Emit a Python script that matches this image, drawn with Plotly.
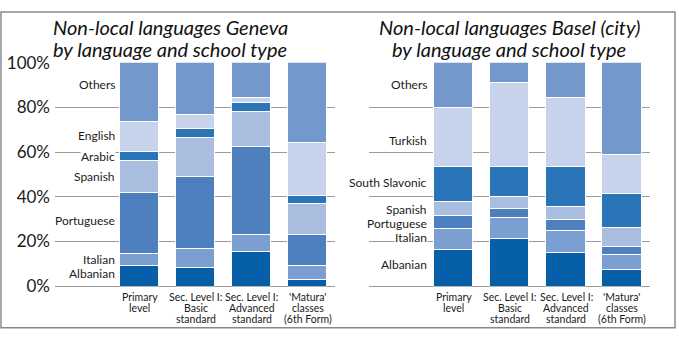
import plotly.graph_objects as go

W, H = 679, 340

# School types (x categories) and their wrapped label lines
schools = ["Primary level", "Sec. Level I: Basic standard",
           "Sec. Level I: Advanced standard", "'Matura' classes (6th Form)"]
school_lines = [["Primary", "level"],
                ["Sec. Level I:", "Basic", "standard"],
                ["Sec. Level I:", "Advanced", "standard"],
                ["'Matura'", "classes", "(6th Form)"]]

# Geneva: share (%) of each non-local language, per school type
geneva_langs = ["Albanian", "Italian", "Portuguese", "Spanish", "Arabic", "English", "Others"]
geneva_albanian = [9.1, 8.2, 15.4, 2.9]
geneva_italian = [5.7, 8.6, 7.6, 6.2]
geneva_portuguese = [27.2, 32.2, 39.3, 14.0]
geneva_spanish = [14.0, 17.5, 15.8, 13.7]
geneva_arabic = [4.2, 4.1, 4.2, 3.8]
geneva_english = [13.5, 6.1, 1.9, 23.5]
geneva_others = [26.3, 23.3, 15.8, 35.9]

# Basel (city): share (%) of each non-local language, per school type
basel_langs = ["Albanian", "Italian", "Portuguese", "Spanish", "South Slavonic", "Turkish", "Others"]
basel_albanian = [16.4, 21.5, 15.2, 7.6]
basel_italian = [9.5, 9.3, 9.7, 6.7]
basel_portuguese = [5.9, 3.8, 4.8, 3.6]
basel_spanish = [6.0, 5.3, 6.0, 8.2]
basel_south_slavonic = [15.8, 13.7, 17.9, 15.5]
basel_turkish = [26.1, 37.3, 30.6, 17.2]
basel_others = [20.3, 9.1, 15.8, 41.2]

y_ticks = [0, 20, 40, 60, 80, 100]
y_tick_labels = ["0%", "20%", "40%", "60%", "80%", "100%"]

geneva_values = [geneva_albanian, geneva_italian, geneva_portuguese, geneva_spanish,
                 geneva_arabic, geneva_english, geneva_others]
basel_values = [basel_albanian, basel_italian, basel_portuguese, basel_spanish,
                basel_south_slavonic, basel_turkish, basel_others]

# Segment colours (bottom to top)
seg_colors = ["#065fa8", "#7c9fd2", "#4e80bf", "#aabee0", "#2a74b8", "#c6d3ea", "#7398cc"]

FONT = "Lato, 'Open Sans', sans-serif"

fig = go.Figure()

for vals, name, col in zip(geneva_values, geneva_langs, seg_colors):
    fig.add_trace(go.Bar(x=schools, y=vals, name=name, xaxis="x", yaxis="y",
                         marker=dict(color=col, line=dict(color="white", width=1)),
                         width=0.7, showlegend=False, hoverinfo="skip"))
for vals, name, col in zip(basel_values, basel_langs, seg_colors):
    fig.add_trace(go.Bar(x=schools, y=vals, name=name, xaxis="x2", yaxis="y2",
                         marker=dict(color=col, line=dict(color="white", width=1)),
                         width=0.7, showlegend=False, hoverinfo="skip"))


def px_x(p):
    return p / W


def px_y(p):
    return 1 - p / H


y_dom = [px_y(293.4), px_y(55)]
grid = dict(showgrid=True, gridcolor="#9a9a9a", gridwidth=1, zeroline=True,
            zerolinecolor="#9a9a9a", zerolinewidth=1, range=[0, 100],
            tickmode="array", tickvals=y_ticks, ticktext=y_tick_labels, fixedrange=True)

fig.update_layout(
    width=W, height=H, margin=dict(l=0, r=0, t=0, b=0),
    paper_bgcolor="white", plot_bgcolor="white", barmode="stack", bargap=0,
    font=dict(family=FONT, color="#1a1a1a"),
    xaxis=dict(domain=[px_x(55), px_x(335)], range=[-1.51, 3.49],
               showticklabels=False, showgrid=False, zeroline=False, fixedrange=True),
    xaxis2=dict(domain=[px_x(369.3), px_x(650)], range=[-1.5, 3.49],
                showticklabels=False, showgrid=False, zeroline=False, fixedrange=True),
    yaxis=dict(domain=y_dom, ticks="", ticklabelstandoff=4,
               tickfont=dict(size=17, family=FONT, color="#1a1a1a"), **grid),
    yaxis2=dict(domain=y_dom, anchor="x2", showticklabels=False, **grid),
)

annotations = []

# Panel titles, one annotation per line
titles = [(["Non-local languages Geneva", "by language and school type"], 170),
          (["Non-local languages Basel (city)", "by language and school type"], 509)]
for lines, cx in titles:
    for i, ln in enumerate(lines):
        annotations.append(dict(text="<i>%s</i>" % ln, x=px_x(cx), y=px_y(17 + 23 * i),
                                xref="paper", yref="paper", showarrow=False,
                                xanchor="center", yanchor="middle", borderpad=0,
                                font=dict(size=20, family=FONT, color="#111")))

# School type labels under each bar, one annotation per line
for xa in ["x", "x2"]:
    for school, lines in zip(schools, school_lines):
        for i, ln in enumerate(lines):
            annotations.append(dict(text=ln, x=school, xref=xa, y=px_y(305 + 11.7 * i),
                                    yref="paper", showarrow=False, xanchor="center",
                                    yanchor="middle", borderpad=0,
                                    font=dict(size=10.5, family=FONT, color="#1a1a1a")))

# Language labels beside the first bar of each panel
geneva_label_y = [5.6, 11.9, 29.4, 49.2, 57.9, 67.6, 90.0]
basel_label_y = [9.6, 21.7, 28.0, 34.3, 46.6, 65.1, 90.0]
for langs, ys, yref, xr in [(geneva_langs, geneva_label_y, "y", 116),
                            (basel_langs, basel_label_y, "y2", 428)]:
    for name, yv in zip(langs, ys):
        annotations.append(dict(text=name, x=px_x(xr), xref="paper", y=yv, yref=yref,
                                showarrow=False, xanchor="right", yanchor="middle",
                                bgcolor="white", borderpad=0,
                                font=dict(size=12, family=FONT, color="#1a1a1a")))

fig.update_layout(annotations=annotations)

# Outer frame
fig.add_shape(type="rect", xref="paper", yref="paper",
              x0=px_x(1), x1=px_x(675), y0=px_y(337.5), y1=px_y(1),
              line=dict(color="#8a8a8a", width=1.5), fillcolor="rgba(0,0,0,0)")

fig.write_html("out.html")
